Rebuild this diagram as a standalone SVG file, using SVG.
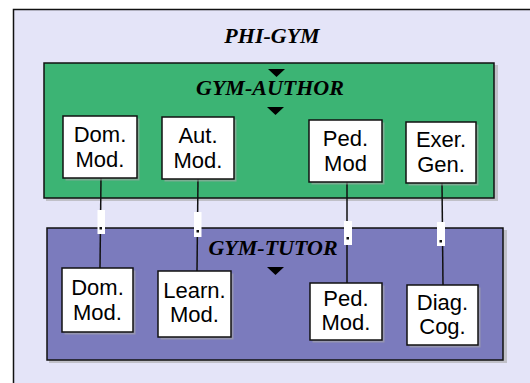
<svg xmlns="http://www.w3.org/2000/svg" width="530" height="383" viewBox="0 0 530 383">
  <defs>
    <style>
      .frame { stroke: #111; stroke-width: 1.5; }
      .shadow { fill: #a9a9a9; opacity: 0.6; }
      .node { fill: #ffffff; stroke: #111; stroke-width: 1.5; }
      .label { font-family: "Liberation Sans", Arial, sans-serif; font-size: 22px; fill: #000; text-anchor: middle; }
      .title { font-family: "Liberation Serif", "Times New Roman", serif; font-size: 22px; font-weight: bold; font-style: italic; fill: #000; text-anchor: middle; }
      .link { stroke: #111; stroke-width: 1.5; fill: none; }
      .joint { fill: #ffffff; }
      .dot { fill: #111; }
      .tri { fill: #000; }
    </style>
  </defs>

  <rect x="0" y="0" width="530" height="383" fill="#ffffff"/>

  <!-- PHI-GYM container -->
  <g id="phi-gym">
    <rect x="13.5" y="9.5" width="520" height="380" fill="#e4e4f8" class="frame"/>
    <text x="272" y="43" class="title">PHI-GYM</text>
  </g>

  <!-- GYM-AUTHOR container -->
  <g id="gym-author">
    <rect x="46" y="65" width="452" height="136" class="shadow"/>
    <rect x="44" y="63" width="450" height="135" fill="#3cb474" class="frame"/>
    <path class="tri" d="M268,69 L285,69 L276.5,77 Z"/>
    <text x="270" y="95" class="title">GYM-AUTHOR</text>
    <path class="tri" d="M267,107 L284,107 L275.5,115 Z"/>
  </g>

  <!-- GYM-TUTOR container -->
  <g id="gym-tutor">
    <rect x="49" y="230" width="458" height="133" class="shadow"/>
    <rect x="47" y="228" width="456" height="132" fill="#7b7bbd" class="frame"/>
    <text x="273" y="255" class="title">GYM-TUTOR</text>
    <path class="tri" d="M267,267 L284,267 L275.5,275 Z"/>
  </g>

  <!-- connectors between author and tutor modules -->
  <g id="connectors">
    <line class="link" x1="101" y1="178" x2="100" y2="268"/>
    <line class="link" x1="198" y1="179" x2="197" y2="271"/>
    <line class="link" x1="347" y1="182" x2="347" y2="283"/>
    <line class="link" x1="442" y1="183" x2="443" y2="285"/>
    <rect class="joint" x="97.5" y="210" width="7.5" height="24"/>
    <rect class="dot" x="99.5" y="227" width="2.5" height="2.5"/>
    <rect class="joint" x="194" y="212" width="7.5" height="25"/>
    <rect class="dot" x="196.5" y="230" width="2.5" height="2.5"/>
    <rect class="joint" x="344" y="221" width="8" height="24"/>
    <rect class="dot" x="346.5" y="237" width="2.5" height="2.5"/>
    <rect class="joint" x="437" y="222" width="8" height="24"/>
    <rect class="dot" x="439.5" y="240" width="2.5" height="2.5"/>
  </g>

  <!-- author modules -->
  <g id="a-dom-mod">
    <rect x="65.5" y="118.5" width="74" height="62" class="shadow"/>
    <rect x="63" y="116" width="74" height="62" class="node"/>
    <text x="100" y="142" class="label">Dom.</text>
    <text x="100" y="167" class="label">Mod.</text>
  </g>
  <g id="a-aut-mod">
    <rect x="164.5" y="119.5" width="72" height="62" class="shadow"/>
    <rect x="162" y="117" width="72" height="62" class="node"/>
    <text x="198" y="143" class="label">Aut.</text>
    <text x="198" y="168" class="label">Mod.</text>
  </g>
  <g id="a-ped-mod">
    <rect x="311.5" y="122.5" width="73" height="62" class="shadow"/>
    <rect x="309" y="120" width="73" height="62" class="node"/>
    <text x="345.5" y="146" class="label">Ped.</text>
    <text x="345.5" y="171" class="label">Mod</text>
  </g>
  <g id="a-exer-gen">
    <rect x="408.5" y="124.5" width="70" height="61" class="shadow"/>
    <rect x="406" y="122" width="70" height="61" class="node"/>
    <text x="441" y="147" class="label">Exer.</text>
    <text x="441" y="172" class="label">Gen.</text>
  </g>

  <!-- tutor modules -->
  <g id="t-dom-mod">
    <rect x="64.5" y="270.5" width="71" height="64" class="shadow"/>
    <rect x="62" y="268" width="71" height="64" class="node"/>
    <text x="97.5" y="295" class="label">Dom.</text>
    <text x="97.5" y="320" class="label">Mod.</text>
  </g>
  <g id="t-learn-mod">
    <rect x="160.5" y="273.5" width="73" height="66" class="shadow"/>
    <rect x="158" y="271" width="73" height="66" class="node"/>
    <text x="194.5" y="298" class="label">Learn.</text>
    <text x="194.5" y="322" class="label">Mod.</text>
  </g>
  <g id="t-ped-mod">
    <rect x="312.5" y="285.5" width="72" height="57" class="shadow"/>
    <rect x="310" y="283" width="72" height="57" class="node"/>
    <text x="346" y="306" class="label">Ped.</text>
    <text x="346" y="330" class="label">Mod.</text>
  </g>
  <g id="t-diag-cog">
    <rect x="409.5" y="287.5" width="71" height="60" class="shadow"/>
    <rect x="407" y="285" width="71" height="60" class="node"/>
    <text x="442.5" y="310" class="label">Diag.</text>
    <text x="442.5" y="334" class="label">Cog.</text>
  </g>
</svg>
